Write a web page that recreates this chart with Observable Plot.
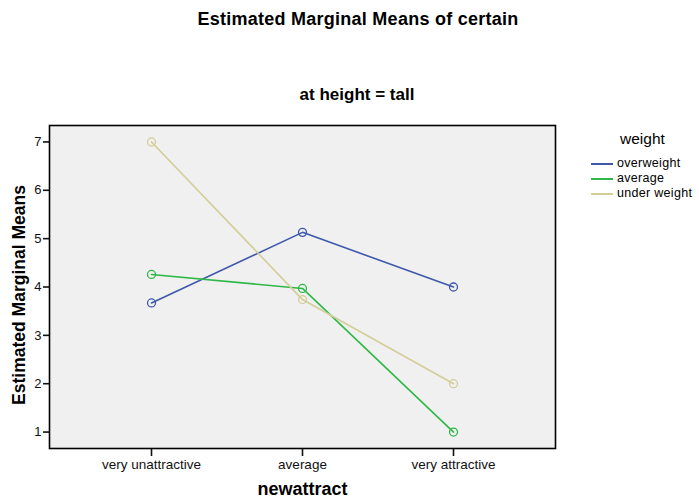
<!DOCTYPE html>
<html>
<head>
<meta charset="utf-8">
<script src="https://cdn.jsdelivr.net/npm/d3@7"></script>
<script src="https://cdn.jsdelivr.net/npm/@observablehq/plot@0.6"></script>
<style>
  html, body { margin: 0; padding: 0; background: #fff; }
  #wrap { position: relative; width: 699px; height: 502px; font-family: "Liberation Sans", Arial, sans-serif; color: #000; }
  #wrap svg { position: absolute; left: 0; top: 0; }
  .title { position: absolute; font-weight: bold; text-align: center; white-space: nowrap; line-height: 1; }
  #legend { position: absolute; left: 590px; top: 130px; font-size: 12.5px; }
  #legend .lt { font-size: 15.5px; position: absolute; left: 30px; top: 0; white-space: nowrap; }
  #legend .item { position: absolute; left: 0; white-space: nowrap; height: 14px; }
  #legend .sw { position: absolute; left: 1px; top: 7px; width: 22px; height: 2px; }
  #legend .lab { position: absolute; left: 27px; top: 0; line-height: 14px; letter-spacing: 0.3px; }
</style>
</head>
<body>
<div id="wrap">
  <div class="title" style="left:0;width:716px;top:10px;font-size:18px;letter-spacing:0.25px;">Estimated Marginal Means of certain</div>
  <div class="title" style="left:0;width:714px;top:86px;font-size:17px;">at height = tall</div>
  <div id="legend"></div>
</div>
<script>
const categories = ["very unattractive", "average", "very attractive"];
const seriesNames = ["overweight", "average", "under weight"];
const seriesColors = ["#3e58ac", "#2eb848", "#d3ce97"];
const overweight = [3.67, 5.13, 4.0];
const averageW = [4.26, 3.97, 1.0];
const underweight = [7.0, 3.74, 2.0];
const yTicks = [1, 2, 3, 4, 5, 6, 7];
const legendTitle = "weight";
const xLabel = "newattract";
const yLabel = "Estimated Marginal Means";

const seriesValues = [overweight, averageW, underweight];
const data = [];
seriesNames.forEach((s, i) => {
  categories.forEach((c, j) => data.push({series: s, cat: c, value: seriesValues[i][j]}));
});

const chart = Plot.plot({
  width: 699,
  height: 502,
  marginTop: 125,
  marginBottom: 54,
  marginLeft: 49,
  marginRight: 144,
  style: {fontFamily: "Liberation Sans, Arial, sans-serif", fontSize: "13px", background: "transparent", overflow: "visible", color: "#111"},
  x: {type: "point", domain: categories, padding: 0.675, label: null},
  y: {domain: [0.66, 7.34], label: null},
  color: {domain: seriesNames, range: seriesColors},
  marks: [
    Plot.frame({fill: "#f0f0f0", stroke: null}),
    Plot.axisX({tickSize: 8, tickPadding: 3, label: null, strokeWidth: 1.6, fontSize: 13.5}),
    Plot.axisY({ticks: yTicks, tickSize: 6, tickPadding: 2, label: null, strokeWidth: 1.6, tickFormat: d3.format("d"), fontSize: 13}),
    Plot.line(data, {x: "cat", y: "value", z: "series", stroke: "series", strokeWidth: 1.6}),
    Plot.dot(data, {x: "cat", y: "value", stroke: "series", r: 4, strokeWidth: 1.3, fill: "none"}),
    Plot.frame({stroke: "#000", strokeWidth: 1.6}),
    Plot.text([yLabel], {frameAnchor: "left", dx: -30, dy: 8, rotate: -90, textAnchor: "middle", lineAnchor: "middle", fontWeight: "bold", fontSize: 17.5, fill: "#000"}),
    Plot.text([xLabel], {frameAnchor: "bottom", dy: 41, lineAnchor: "middle", fontWeight: "bold", fontSize: 18, fill: "#000"})
  ]
});
document.getElementById("wrap").prepend(chart);

const legend = document.getElementById("legend");
const lt = document.createElement("div");
lt.className = "lt";
lt.textContent = legendTitle;
legend.appendChild(lt);
seriesNames.forEach((s, i) => {
  const item = document.createElement("div");
  item.className = "item";
  item.style.top = (26 + i * 15) + "px";
  const sw = document.createElement("div");
  sw.className = "sw";
  sw.style.background = seriesColors[i];
  const lab = document.createElement("div");
  lab.className = "lab";
  lab.textContent = s;
  item.appendChild(sw);
  item.appendChild(lab);
  legend.appendChild(item);
});
</script>
</body>
</html>
